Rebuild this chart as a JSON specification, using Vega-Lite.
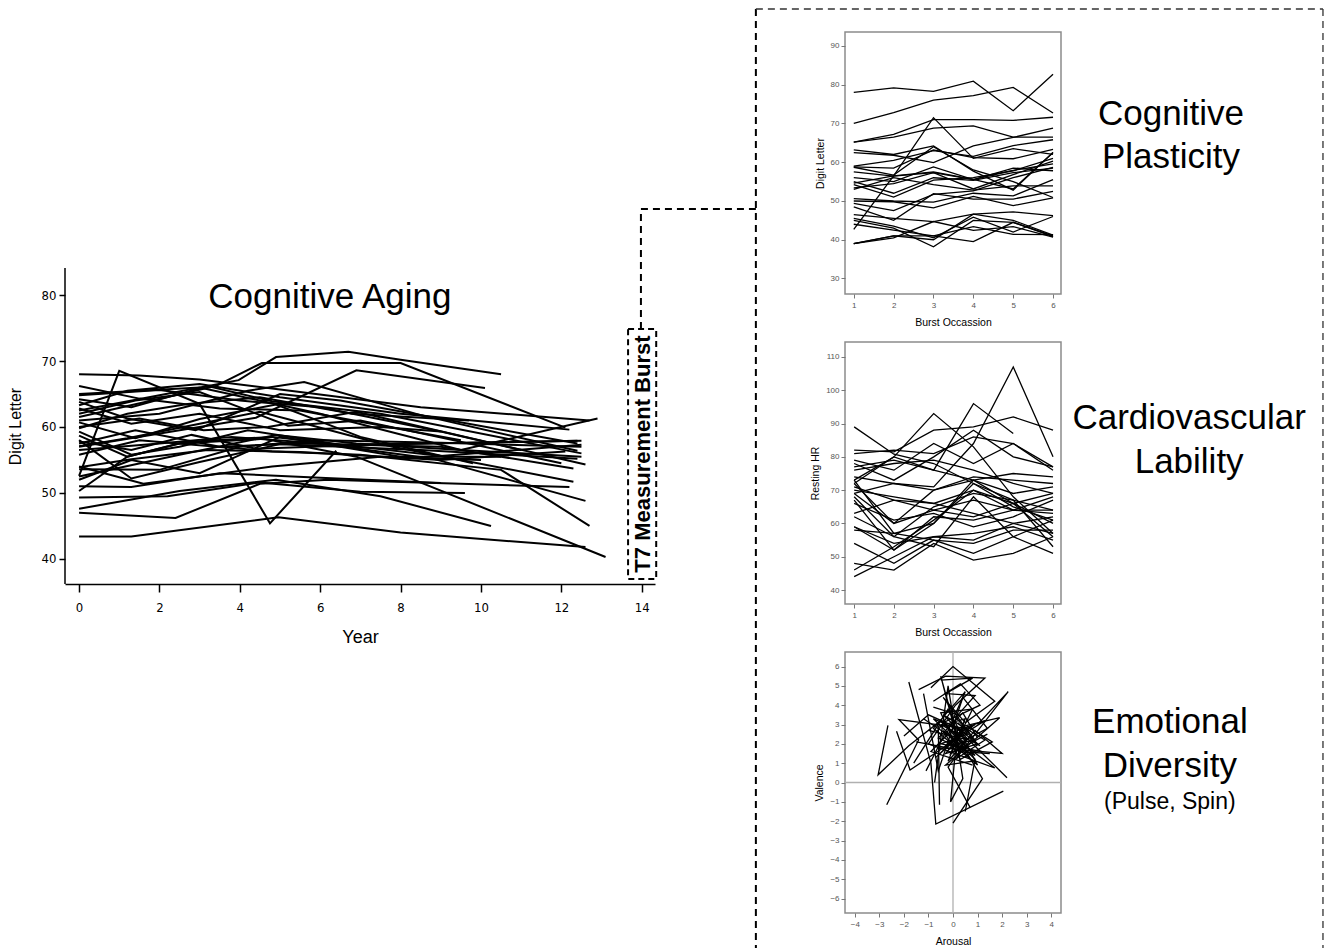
{
"$schema": "https://vega.github.io/schema/vega-lite/v6.json",
"padding": {"left": 7, "top": 7, "right": 0, "bottom": 0},
"background": "white",
"config": {"font": "Liberation Sans", "view": {"stroke": null}, "axis": {"grid": false}},
"datasets": {
"aging": [
{"id":"A1","t":0,"v":62.5},{"id":"A1","t":2,"v":64.8},{"id":"A1","t":3.97,"v":67.1},{"id":"A1","t":4.9,"v":70.6},{"id":"A1","t":6.7,"v":71.4},{"id":"A1","t":8,"v":70.2},{"id":"A1","t":10.5,"v":68},
{"id":"A2","t":0,"v":61.5},{"id":"A2","t":3.4,"v":66.2},{"id":"A2","t":4.55,"v":69.7},{"id":"A2","t":8,"v":69.7},{"id":"A2","t":12.1,"v":59.9},
{"id":"A3","t":0,"v":57},{"id":"A3","t":4.4,"v":61.4},{"id":"A3","t":6.9,"v":68.6},{"id":"A3","t":10.1,"v":65.9},
{"id":"A4","t":0,"v":52.6},{"id":"A4","t":1,"v":68.5},{"id":"A4","t":3,"v":63.5},{"id":"A4","t":4.75,"v":45.4},{"id":"A4","t":6.4,"v":56.4},
{"id":"A5","t":0,"v":43.4},{"id":"A5","t":1.3,"v":43.4},{"id":"A5","t":4.96,"v":46.3},{"id":"A5","t":8,"v":44},{"id":"A5","t":12.6,"v":41.8},
{"id":"A6","t":0,"v":47},{"id":"A6","t":2.4,"v":46.2},{"id":"A6","t":4.5,"v":51.4},{"id":"A6","t":6.2,"v":52},{"id":"A6","t":12.2,"v":50.9},
{"id":"A7","t":0,"v":47.6},{"id":"A7","t":2.5,"v":50.3},{"id":"A7","t":4.9,"v":52},{"id":"A7","t":7.5,"v":49.5},{"id":"A7","t":10.25,"v":45},
{"id":"A8","t":0,"v":49.3},{"id":"A8","t":2.2,"v":49.5},{"id":"A8","t":4.5,"v":51.6},{"id":"A8","t":7,"v":50.2},{"id":"A8","t":9.6,"v":50},
{"id":"A9","t":0,"v":51},{"id":"A9","t":1.3,"v":50.9},{"id":"A9","t":3.5,"v":53},{"id":"A9","t":6,"v":52.3},{"id":"A9","t":9,"v":51.5},
{"id":"A10","t":0,"v":68},{"id":"A10","t":1.5,"v":67.8},{"id":"A10","t":3,"v":67.2},{"id":"A10","t":5.5,"v":65.3},{"id":"A10","t":8.5,"v":63},{"id":"A10","t":12.7,"v":61},
{"id":"A11","t":0,"v":65},{"id":"A11","t":3,"v":66},{"id":"A11","t":6,"v":62},{"id":"A11","t":9.5,"v":56.5},{"id":"A11","t":12.9,"v":61.3},
{"id":"A12","t":0,"v":64.2},{"id":"A12","t":1.3,"v":63},{"id":"A12","t":3.2,"v":66.2},{"id":"A12","t":4.8,"v":63.9},{"id":"A12","t":7.5,"v":62},{"id":"A12","t":12.5,"v":56},
{"id":"A13","t":0,"v":63.8},{"id":"A13","t":1.2,"v":61.3},{"id":"A13","t":2.9,"v":59.5},{"id":"A13","t":5,"v":65},{"id":"A13","t":6.5,"v":64},{"id":"A13","t":12.4,"v":57.5},
{"id":"A14","t":0,"v":62},{"id":"A14","t":1.4,"v":64},{"id":"A14","t":3,"v":65.3},{"id":"A14","t":5.2,"v":60.2},{"id":"A14","t":7,"v":61},{"id":"A14","t":12,"v":54.5},
{"id":"A15","t":0,"v":61},{"id":"A15","t":2,"v":62},{"id":"A15","t":4.2,"v":65.5},{"id":"A15","t":5.6,"v":66.8},{"id":"A15","t":8.5,"v":61.8},{"id":"A15","t":12.4,"v":56.4},
{"id":"A16","t":0,"v":60},{"id":"A16","t":1.5,"v":61.3},{"id":"A16","t":3.1,"v":59.5},{"id":"A16","t":4.7,"v":60},{"id":"A16","t":6.9,"v":62.3},{"id":"A16","t":12.6,"v":54.3},
{"id":"A17","t":0,"v":59.3},{"id":"A17","t":1.3,"v":55.8},{"id":"A17","t":2.5,"v":57},{"id":"A17","t":4.2,"v":59.5},{"id":"A17","t":6.5,"v":57.3},{"id":"A17","t":12.5,"v":57.9},
{"id":"A18","t":0,"v":58.7},{"id":"A18","t":1.2,"v":55.5},{"id":"A18","t":2.6,"v":57.7},{"id":"A18","t":4.8,"v":58.5},{"id":"A18","t":9,"v":55.6},{"id":"A18","t":12.5,"v":57.3},
{"id":"A19","t":0,"v":58},{"id":"A19","t":1.3,"v":52.2},{"id":"A19","t":3,"v":54.7},{"id":"A19","t":5,"v":57.4},{"id":"A19","t":8.5,"v":56.5},{"id":"A19","t":12.4,"v":55.2},
{"id":"A20","t":0,"v":57.5},{"id":"A20","t":1.4,"v":59.5},{"id":"A20","t":3.5,"v":57},{"id":"A20","t":5.5,"v":57.5},{"id":"A20","t":9,"v":57},{"id":"A20","t":12.3,"v":53.7},
{"id":"A21","t":0,"v":57.1},{"id":"A21","t":1.2,"v":58.3},{"id":"A21","t":3,"v":60.5},{"id":"A21","t":4.5,"v":62.3},{"id":"A21","t":7.8,"v":57},{"id":"A21","t":12.3,"v":51.7},
{"id":"A22","t":0,"v":56.5},{"id":"A22","t":2,"v":57.5},{"id":"A22","t":3.8,"v":58.5},{"id":"A22","t":6,"v":57.5},{"id":"A22","t":8.8,"v":55.2},{"id":"A22","t":12.6,"v":48.8},
{"id":"A23","t":0,"v":55.8},{"id":"A23","t":1.5,"v":58},{"id":"A23","t":4.8,"v":56.3},{"id":"A23","t":7,"v":55.8},{"id":"A23","t":10.5,"v":53.5},{"id":"A23","t":12.7,"v":45},
{"id":"A24","t":0,"v":53.9},{"id":"A24","t":1.3,"v":55.1},{"id":"A24","t":3.2,"v":56.5},{"id":"A24","t":5.5,"v":56.2},{"id":"A24","t":9,"v":55},{"id":"A24","t":12.1,"v":56.3},
{"id":"A25","t":0,"v":53.6},{"id":"A25","t":2,"v":53.5},{"id":"A25","t":4,"v":57},{"id":"A25","t":6,"v":58},{"id":"A25","t":9,"v":57.6},{"id":"A25","t":12.5,"v":57},
{"id":"A26","t":0,"v":52},{"id":"A26","t":1.3,"v":55},{"id":"A26","t":3,"v":53},{"id":"A26","t":5,"v":58.5},{"id":"A26","t":8,"v":55.5},{"id":"A26","t":10.5,"v":55.5},
{"id":"A27","t":0,"v":50.3},{"id":"A27","t":1.2,"v":55.5},{"id":"A27","t":2.5,"v":57.5},{"id":"A27","t":4.6,"v":58.2},{"id":"A27","t":6.9,"v":55.5},{"id":"A27","t":13.1,"v":40.3},
{"id":"A28","t":0,"v":59.8},{"id":"A28","t":1.2,"v":62},{"id":"A28","t":2.7,"v":63.5},{"id":"A28","t":4.5,"v":64.5},{"id":"A28","t":6.8,"v":62},{"id":"A28","t":9.7,"v":61},
{"id":"A29","t":0,"v":62.8},{"id":"A29","t":1.3,"v":60.5},{"id":"A29","t":3,"v":62},{"id":"A29","t":5,"v":59.5},{"id":"A29","t":7.5,"v":60},{"id":"A29","t":9,"v":59.3},
{"id":"A30","t":0,"v":64.8},{"id":"A30","t":2,"v":65.6},{"id":"A30","t":4,"v":64},{"id":"A30","t":6,"v":63},{"id":"A30","t":9,"v":59.3},{"id":"A30","t":11,"v":56.5},
{"id":"A31","t":0,"v":66.2},{"id":"A31","t":1.5,"v":64.3},{"id":"A31","t":3.5,"v":62.8},{"id":"A31","t":5.5,"v":62.5},{"id":"A31","t":7,"v":60.8},{"id":"A31","t":9.5,"v":58},
{"id":"A32","t":0,"v":54},{"id":"A32","t":1.6,"v":51.4},{"id":"A32","t":3.2,"v":52.7},{"id":"A32","t":4.8,"v":54},{"id":"A32","t":7.5,"v":55.5},{"id":"A32","t":10,"v":55},
{"id":"A33","t":0,"v":60.7},{"id":"A33","t":1.4,"v":58.3},{"id":"A33","t":3,"v":61.2},{"id":"A33","t":4.9,"v":63.4},{"id":"A33","t":7,"v":58.5},{"id":"A33","t":9.8,"v":54.5},
{"id":"A34","t":0,"v":57.8},{"id":"A34","t":1.3,"v":56.5},{"id":"A34","t":2.8,"v":58.8},{"id":"A34","t":4.4,"v":56.7},{"id":"A34","t":7.2,"v":57.3},{"id":"A34","t":12.4,"v":57.9},
{"id":"A35","t":0,"v":63.3},{"id":"A35","t":1.2,"v":65.5},{"id":"A35","t":3,"v":66.5},{"id":"A35","t":5,"v":64.5},{"id":"A35","t":8,"v":62},{"id":"A35","t":12.2,"v":59.6},
{"id":"A36","t":0,"v":52.5},{"id":"A36","t":2.5,"v":55.8},{"id":"A36","t":4.9,"v":58.8},{"id":"A36","t":6.9,"v":57.5},{"id":"A36","t":9.3,"v":56.6},{"id":"A36","t":12.5,"v":55.5}
],
"plasticity": [
{"id":"P1","t":1,"v":78},{"id":"P1","t":2,"v":79.2},{"id":"P1","t":3,"v":78.3},{"id":"P1","t":4,"v":80.9},{"id":"P1","t":5,"v":73.3},{"id":"P1","t":6,"v":82.7},
{"id":"P2","t":1,"v":70},{"id":"P2","t":2,"v":72.8},{"id":"P2","t":3,"v":76},{"id":"P2","t":4,"v":77.2},{"id":"P2","t":5,"v":79.3},{"id":"P2","t":6,"v":72.7},
{"id":"P3","t":1,"v":65.2},{"id":"P3","t":2,"v":67.2},{"id":"P3","t":3,"v":71},{"id":"P3","t":4,"v":71},{"id":"P3","t":5,"v":70.8},{"id":"P3","t":6,"v":71.6},
{"id":"P4","t":1,"v":65.2},{"id":"P4","t":2,"v":66.5},{"id":"P4","t":3,"v":68.8},{"id":"P4","t":4,"v":69.4},{"id":"P4","t":5,"v":66.5},{"id":"P4","t":6,"v":66.5},
{"id":"P5","t":1,"v":42.7},{"id":"P5","t":2,"v":56.5},{"id":"P5","t":3,"v":71.5},{"id":"P5","t":4,"v":61},{"id":"P5","t":5,"v":63.5},{"id":"P5","t":6,"v":62},
{"id":"P6","t":1,"v":63.2},{"id":"P6","t":2,"v":62},{"id":"P6","t":3,"v":64.2},{"id":"P6","t":4,"v":57.7},{"id":"P6","t":5,"v":52.8},{"id":"P6","t":6,"v":62.5},
{"id":"P7","t":1,"v":62.5},{"id":"P7","t":2,"v":61.8},{"id":"P7","t":3,"v":59.9},{"id":"P7","t":4,"v":64.2},{"id":"P7","t":5,"v":66.4},{"id":"P7","t":6,"v":68.8},
{"id":"P8","t":1,"v":59},{"id":"P8","t":2,"v":60.5},{"id":"P8","t":3,"v":63},{"id":"P8","t":4,"v":61.5},{"id":"P8","t":5,"v":64.3},{"id":"P8","t":6,"v":65.8},
{"id":"P9","t":1,"v":58.8},{"id":"P9","t":2,"v":58.5},{"id":"P9","t":3,"v":63.2},{"id":"P9","t":4,"v":61.2},{"id":"P9","t":5,"v":60.9},{"id":"P9","t":6,"v":63.3},
{"id":"P10","t":1,"v":58.7},{"id":"P10","t":2,"v":56.7},{"id":"P10","t":3,"v":64},{"id":"P10","t":4,"v":58},{"id":"P10","t":5,"v":55},{"id":"P10","t":6,"v":50.9},
{"id":"P11","t":1,"v":57.5},{"id":"P11","t":2,"v":56.4},{"id":"P11","t":3,"v":57.3},{"id":"P11","t":4,"v":55.5},{"id":"P11","t":5,"v":57.9},{"id":"P11","t":6,"v":59.6},
{"id":"P12","t":1,"v":56},{"id":"P12","t":2,"v":55},{"id":"P12","t":3,"v":58.8},{"id":"P12","t":4,"v":55.5},{"id":"P12","t":5,"v":58.5},{"id":"P12","t":6,"v":57.8},
{"id":"P13","t":1,"v":55},{"id":"P13","t":2,"v":52},{"id":"P13","t":3,"v":56},{"id":"P13","t":4,"v":55.3},{"id":"P13","t":5,"v":57.3},{"id":"P13","t":6,"v":58.5},
{"id":"P14","t":1,"v":54.6},{"id":"P14","t":2,"v":56.5},{"id":"P14","t":3,"v":57.5},{"id":"P14","t":4,"v":55.6},{"id":"P14","t":5,"v":53.1},{"id":"P14","t":6,"v":62.5},
{"id":"P15","t":1,"v":54.2},{"id":"P15","t":2,"v":51},{"id":"P15","t":3,"v":55.4},{"id":"P15","t":4,"v":56},{"id":"P15","t":5,"v":57.8},{"id":"P15","t":6,"v":61},
{"id":"P16","t":1,"v":53.4},{"id":"P16","t":2,"v":54.5},{"id":"P16","t":3,"v":57.3},{"id":"P16","t":4,"v":53.1},{"id":"P16","t":5,"v":56.8},{"id":"P16","t":6,"v":60.3},
{"id":"P17","t":1,"v":53},{"id":"P17","t":2,"v":56},{"id":"P17","t":3,"v":54.2},{"id":"P17","t":4,"v":52.8},{"id":"P17","t":5,"v":53.9},{"id":"P17","t":6,"v":53.9},
{"id":"P18","t":1,"v":50.6},{"id":"P18","t":2,"v":50},{"id":"P18","t":3,"v":49.7},{"id":"P18","t":4,"v":52},{"id":"P18","t":5,"v":51.3},{"id":"P18","t":6,"v":55.5},
{"id":"P19","t":1,"v":50},{"id":"P19","t":2,"v":49.8},{"id":"P19","t":3,"v":48.2},{"id":"P19","t":4,"v":51.2},{"id":"P19","t":5,"v":48.8},{"id":"P19","t":6,"v":50.8},
{"id":"P20","t":1,"v":49.4},{"id":"P20","t":2,"v":47.5},{"id":"P20","t":3,"v":51.7},{"id":"P20","t":4,"v":52.6},{"id":"P20","t":5,"v":56},{"id":"P20","t":6,"v":58.7},
{"id":"P21","t":1,"v":48.5},{"id":"P21","t":2,"v":45},{"id":"P21","t":3,"v":51.9},{"id":"P21","t":4,"v":50.5},{"id":"P21","t":5,"v":50.5},{"id":"P21","t":6,"v":52.5},
{"id":"P22","t":1,"v":46.5},{"id":"P22","t":2,"v":45.5},{"id":"P22","t":3,"v":44.7},{"id":"P22","t":4,"v":46.6},{"id":"P22","t":5,"v":47.2},{"id":"P22","t":6,"v":46.2},
{"id":"P23","t":1,"v":45.5},{"id":"P23","t":2,"v":43.5},{"id":"P23","t":3,"v":40.5},{"id":"P23","t":4,"v":45.8},{"id":"P23","t":5,"v":42},{"id":"P23","t":6,"v":46},
{"id":"P24","t":1,"v":45},{"id":"P24","t":2,"v":43},{"id":"P24","t":3,"v":38.2},{"id":"P24","t":4,"v":45},{"id":"P24","t":5,"v":44.5},{"id":"P24","t":6,"v":41},
{"id":"P25","t":1,"v":44},{"id":"P25","t":2,"v":42.5},{"id":"P25","t":3,"v":41},{"id":"P25","t":4,"v":43.4},{"id":"P25","t":5,"v":41.4},{"id":"P25","t":6,"v":41.3},
{"id":"P26","t":1,"v":39},{"id":"P26","t":2,"v":41},{"id":"P26","t":3,"v":41},{"id":"P26","t":4,"v":39.5},{"id":"P26","t":5,"v":44.5},{"id":"P26","t":6,"v":40.8},
{"id":"P27","t":1,"v":39},{"id":"P27","t":2,"v":40.5},{"id":"P27","t":3,"v":44.7},{"id":"P27","t":4,"v":42.4},{"id":"P27","t":5,"v":43.4},{"id":"P27","t":6,"v":40.7},
{"id":"P28","t":1,"v":39},{"id":"P28","t":2,"v":41},{"id":"P28","t":3,"v":40},{"id":"P28","t":4,"v":46.6},{"id":"P28","t":5,"v":45},{"id":"P28","t":6,"v":41.2}
],
"hr": [
{"id":"H1","t":1,"v":89},{"id":"H1","t":2,"v":80.8},{"id":"H1","t":3,"v":78},{"id":"H1","t":4,"v":72},{"id":"H1","t":5,"v":67},{"id":"H1","t":6,"v":53},
{"id":"H2","t":1,"v":72},{"id":"H2","t":2,"v":80},{"id":"H2","t":3,"v":93},{"id":"H2","t":4,"v":83},{"id":"H2","t":5,"v":68},{"id":"H2","t":6,"v":57},
{"id":"H3","t":1,"v":73},{"id":"H3","t":2,"v":80},{"id":"H3","t":3,"v":76},{"id":"H3","t":4,"v":96},{"id":"H3","t":5,"v":87},
{"id":"H4","t":1,"v":69},{"id":"H4","t":2,"v":72},{"id":"H4","t":3,"v":71},{"id":"H4","t":4,"v":84},{"id":"H4","t":5,"v":107},{"id":"H4","t":6,"v":80},
{"id":"H5","t":1,"v":82},{"id":"H5","t":2,"v":81.5},{"id":"H5","t":3,"v":88},{"id":"H5","t":4,"v":89},{"id":"H5","t":5,"v":92},{"id":"H5","t":6,"v":88},
{"id":"H6","t":1,"v":81},{"id":"H6","t":2,"v":82},{"id":"H6","t":3,"v":81},{"id":"H6","t":4,"v":86},{"id":"H6","t":5,"v":84},{"id":"H6","t":6,"v":77},
{"id":"H7","t":1,"v":79},{"id":"H7","t":2,"v":76},{"id":"H7","t":3,"v":84},{"id":"H7","t":4,"v":78},{"id":"H7","t":5,"v":84},{"id":"H7","t":6,"v":76},
{"id":"H8","t":1,"v":78},{"id":"H8","t":2,"v":73},{"id":"H8","t":3,"v":80},{"id":"H8","t":4,"v":88},{"id":"H8","t":5,"v":80},{"id":"H8","t":6,"v":77},
{"id":"H9","t":1,"v":77},{"id":"H9","t":2,"v":79},{"id":"H9","t":3,"v":76},{"id":"H9","t":4,"v":73},{"id":"H9","t":5,"v":75},{"id":"H9","t":6,"v":74},
{"id":"H10","t":1,"v":76},{"id":"H10","t":2,"v":78},{"id":"H10","t":3,"v":79},{"id":"H10","t":4,"v":76},{"id":"H10","t":5,"v":72},{"id":"H10","t":6,"v":69},
{"id":"H11","t":1,"v":74},{"id":"H11","t":2,"v":72},{"id":"H11","t":3,"v":70},{"id":"H11","t":4,"v":74},{"id":"H11","t":5,"v":73},{"id":"H11","t":6,"v":72},
{"id":"H12","t":1,"v":73},{"id":"H12","t":2,"v":57},{"id":"H12","t":3,"v":60},{"id":"H12","t":4,"v":72},{"id":"H12","t":5,"v":65},{"id":"H12","t":6,"v":61},
{"id":"H13","t":1,"v":72},{"id":"H13","t":2,"v":60},{"id":"H13","t":3,"v":70},{"id":"H13","t":4,"v":73},{"id":"H13","t":5,"v":69},{"id":"H13","t":6,"v":71},
{"id":"H14","t":1,"v":70},{"id":"H14","t":2,"v":68},{"id":"H14","t":3,"v":66},{"id":"H14","t":4,"v":70},{"id":"H14","t":5,"v":66},{"id":"H14","t":6,"v":69},
{"id":"H15","t":1,"v":69},{"id":"H15","t":2,"v":60},{"id":"H15","t":3,"v":64},{"id":"H15","t":4,"v":62},{"id":"H15","t":5,"v":66},{"id":"H15","t":6,"v":60},
{"id":"H16","t":1,"v":68},{"id":"H16","t":2,"v":56},{"id":"H16","t":3,"v":65},{"id":"H16","t":4,"v":69},{"id":"H16","t":5,"v":67},{"id":"H16","t":6,"v":64},
{"id":"H17","t":1,"v":67},{"id":"H17","t":2,"v":52},{"id":"H17","t":3,"v":62},{"id":"H17","t":4,"v":61},{"id":"H17","t":5,"v":64},{"id":"H17","t":6,"v":63},
{"id":"H18","t":1,"v":66},{"id":"H18","t":2,"v":61},{"id":"H18","t":3,"v":63},{"id":"H18","t":4,"v":59},{"id":"H18","t":5,"v":62},{"id":"H18","t":6,"v":67},
{"id":"H19","t":1,"v":62},{"id":"H19","t":2,"v":56},{"id":"H19","t":3,"v":53},{"id":"H19","t":4,"v":68},{"id":"H19","t":5,"v":56},{"id":"H19","t":6,"v":61},
{"id":"H20","t":1,"v":59},{"id":"H20","t":2,"v":52},{"id":"H20","t":3,"v":60},{"id":"H20","t":4,"v":73},{"id":"H20","t":5,"v":66},{"id":"H20","t":6,"v":56},
{"id":"H21","t":1,"v":59},{"id":"H21","t":2,"v":54},{"id":"H21","t":3,"v":56},{"id":"H21","t":4,"v":55},{"id":"H21","t":5,"v":60},{"id":"H21","t":6,"v":57},
{"id":"H22","t":1,"v":58},{"id":"H22","t":2,"v":57},{"id":"H22","t":3,"v":55},{"id":"H22","t":4,"v":54},{"id":"H22","t":5,"v":58},{"id":"H22","t":6,"v":58},
{"id":"H23","t":1,"v":54},{"id":"H23","t":2,"v":48},{"id":"H23","t":3,"v":55},{"id":"H23","t":4,"v":51},{"id":"H23","t":5,"v":56},{"id":"H23","t":6,"v":51},
{"id":"H24","t":1,"v":48},{"id":"H24","t":2,"v":46},{"id":"H24","t":3,"v":54},{"id":"H24","t":4,"v":49},{"id":"H24","t":5,"v":51},{"id":"H24","t":6,"v":56},
{"id":"H25","t":1,"v":46},{"id":"H25","t":2,"v":53},{"id":"H25","t":3,"v":61},{"id":"H25","t":4,"v":70},{"id":"H25","t":5,"v":64},{"id":"H25","t":6,"v":64},
{"id":"H26","t":1,"v":44},{"id":"H26","t":2,"v":50},{"id":"H26","t":3,"v":56},{"id":"H26","t":4,"v":57},{"id":"H26","t":5,"v":59},{"id":"H26","t":6,"v":55},
{"id":"H27","t":1,"v":63},{"id":"H27","t":2,"v":67},{"id":"H27","t":3,"v":64},{"id":"H27","t":4,"v":67},{"id":"H27","t":5,"v":64},{"id":"H27","t":6,"v":68},
{"id":"H28","t":1,"v":71},{"id":"H28","t":2,"v":67},{"id":"H28","t":3,"v":66},{"id":"H28","t":4,"v":63},{"id":"H28","t":5,"v":60},{"id":"H28","t":6,"v":62}
],
"emotion": [
{"id":"E1","s":1,"a":-2.65,"val":2.95},{"id":"E1","s":2,"a":-3.05,"val":0.4},{"id":"E1","s":3,"a":-1.8,"val":1.9},{"id":"E1","s":4,"a":-0.5,"val":3.2},{"id":"E1","s":5,"a":0.3,"val":2.1},
{"id":"E2","s":1,"a":-2.7,"val":-1.15},{"id":"E2","s":2,"a":-1.4,"val":2.2},{"id":"E2","s":3,"a":-2.2,"val":3.25},{"id":"E2","s":4,"a":0.5,"val":2.8},{"id":"E2","s":5,"a":-0.3,"val":1.5},{"id":"E2","s":6,"a":1.0,"val":2.0},{"id":"E2","s":7,"a":0.2,"val":3.1},
{"id":"E3","s":1,"a":-1.8,"val":5.2},{"id":"E3","s":2,"a":-0.9,"val":1.0},{"id":"E3","s":3,"a":-0.7,"val":-2.15},{"id":"E3","s":4,"a":2.05,"val":-0.45},
{"id":"E4","s":1,"a":0,"val":-2.1},{"id":"E4","s":2,"a":1.2,"val":0.2},{"id":"E4","s":3,"a":0.1,"val":2.5},{"id":"E4","s":4,"a":0.9,"val":3.0},{"id":"E4","s":5,"a":-0.2,"val":2.0},{"id":"E4","s":6,"a":0.6,"val":1.8},
{"id":"E5","s":1,"a":-0.9,"val":4.9},{"id":"E5","s":2,"a":0,"val":6.0},{"id":"E5","s":3,"a":1.7,"val":4.2},{"id":"E5","s":4,"a":0.5,"val":3.1},{"id":"E5","s":5,"a":-0.4,"val":4.4},{"id":"E5","s":6,"a":0.7,"val":2.5},
{"id":"E6","s":1,"a":2.2,"val":0.25},{"id":"E6","s":2,"a":-0.4,"val":3.5},{"id":"E6","s":3,"a":1.3,"val":2.2},{"id":"E6","s":4,"a":0.1,"val":1.2},{"id":"E6","s":5,"a":2.25,"val":4.7},{"id":"E6","s":6,"a":1.0,"val":3.0},
{"id":"E7","s":1,"a":-2.3,"val":2.65},{"id":"E7","s":2,"a":-1.75,"val":0.65},{"id":"E7","s":3,"a":0.2,"val":2.3},{"id":"E7","s":4,"a":-0.5,"val":5.5},{"id":"E7","s":5,"a":0.3,"val":1.6},{"id":"E7","s":6,"a":1.5,"val":1.5},
{"id":"E8","s":1,"a":-0.55,"val":-1.15},{"id":"E8","s":2,"a":-0.6,"val":2.9},{"id":"E8","s":3,"a":0.5,"val":3.3},{"id":"E8","s":4,"a":-0.2,"val":1.1},{"id":"E8","s":5,"a":0.9,"val":2.7},{"id":"E8","s":6,"a":2.0,"val":1.5},{"id":"E8","s":7,"a":-0.6,"val":1.8},
{"id":"E9","s":1,"a":-1.4,"val":4.8},{"id":"E9","s":2,"a":-0.3,"val":5.5},{"id":"E9","s":3,"a":1.3,"val":5.4},{"id":"E9","s":4,"a":0.1,"val":4.0},{"id":"E9","s":5,"a":-1.0,"val":2.0},{"id":"E9","s":6,"a":1.7,"val":0.75},{"id":"E9","s":7,"a":0.2,"val":2.2},
{"id":"E10","s":1,"a":-1.1,"val":0.6},{"id":"E10","s":2,"a":-0.3,"val":2.6},{"id":"E10","s":3,"a":0.8,"val":1.1},{"id":"E10","s":4,"a":-0.3,"val":0.9},{"id":"E10","s":5,"a":1.9,"val":3.35},{"id":"E10","s":6,"a":0.4,"val":2.9},
{"id":"E11","s":1,"a":0.5,"val":-1.5},{"id":"E11","s":2,"a":0.9,"val":1.2},{"id":"E11","s":3,"a":-0.8,"val":3.3},{"id":"E11","s":4,"a":0.6,"val":2.5},{"id":"E11","s":5,"a":-0.5,"val":2.0},{"id":"E11","s":6,"a":1.2,"val":1.6},
{"id":"E12","s":1,"a":-1.6,"val":1.0},{"id":"E12","s":2,"a":-0.2,"val":3.8},{"id":"E12","s":3,"a":1.0,"val":0.9},{"id":"E12","s":4,"a":-0.8,"val":2.8},{"id":"E12","s":5,"a":0.5,"val":4.7},{"id":"E12","s":6,"a":-0.3,"val":2.4},
{"id":"E13","s":1,"a":-1.0,"val":2.7},{"id":"E13","s":2,"a":0.6,"val":2.2},{"id":"E13","s":3,"a":-0.5,"val":3.0},{"id":"E13","s":4,"a":1.1,"val":1.9},{"id":"E13","s":5,"a":0.1,"val":2.9},{"id":"E13","s":6,"a":-0.9,"val":1.6},{"id":"E13","s":7,"a":0.8,"val":0.9},
{"id":"E14","s":1,"a":-0.75,"val":0.0},{"id":"E14","s":2,"a":-0.2,"val":5.0},{"id":"E14","s":3,"a":0.4,"val":0.2},{"id":"E14","s":4,"a":-0.1,"val":-1.0},{"id":"E14","s":5,"a":0.2,"val":2.9},
{"id":"E15","s":1,"a":-1.2,"val":4.6},{"id":"E15","s":2,"a":-0.6,"val":0.6},{"id":"E15","s":3,"a":0.4,"val":4.4},{"id":"E15","s":4,"a":1.4,"val":2.8},{"id":"E15","s":5,"a":-0.2,"val":1.7},
{"id":"E16","s":1,"a":-0.5,"val":5.3},{"id":"E16","s":2,"a":0.8,"val":5.4},{"id":"E16","s":3,"a":-0.3,"val":4.6},{"id":"E16","s":4,"a":0.9,"val":4.5},{"id":"E16","s":5,"a":0.2,"val":3.5},{"id":"E16","s":6,"a":-0.8,"val":3.9},
{"id":"E17","s":1,"a":-1.2,"val":3.3},{"id":"E17","s":2,"a":0.1,"val":2.2},{"id":"E17","s":3,"a":-0.7,"val":1.3},{"id":"E17","s":4,"a":0.6,"val":2.9},{"id":"E17","s":5,"a":1.6,"val":2.1},{"id":"E17","s":6,"a":0.3,"val":1.2},{"id":"E17","s":7,"a":-0.4,"val":2.7},
{"id":"E18","s":1,"a":-0.3,"val":1.9},{"id":"E18","s":2,"a":1.3,"val":3.2},{"id":"E18","s":3,"a":0.0,"val":2.6},{"id":"E18","s":4,"a":0.9,"val":1.4},{"id":"E18","s":5,"a":-0.6,"val":2.3},{"id":"E18","s":6,"a":0.4,"val":3.6},{"id":"E18","s":7,"a":1.0,"val":2.3},
{"id":"E19","s":1,"a":-1.5,"val":2.1},{"id":"E19","s":2,"a":0.2,"val":1.7},{"id":"E19","s":3,"a":-0.5,"val":3.6},{"id":"E19","s":4,"a":0.8,"val":3.8},{"id":"E19","s":5,"a":-0.1,"val":1.5},{"id":"E19","s":6,"a":1.4,"val":2.5},
{"id":"E20","s":1,"a":-0.8,"val":4.2},{"id":"E20","s":2,"a":0.3,"val":5.1},{"id":"E20","s":3,"a":1.1,"val":4.0},{"id":"E20","s":4,"a":-0.4,"val":3.1},{"id":"E20","s":5,"a":0.5,"val":2.0},{"id":"E20","s":6,"a":-0.2,"val":0.8},{"id":"E20","s":7,"a":0.7,"val":-1.3},
{"id":"E21","s":1,"a":-2.0,"val":2.4},{"id":"E21","s":2,"a":-1.0,"val":3.5},{"id":"E21","s":3,"a":0.4,"val":2.7},{"id":"E21","s":4,"a":-0.3,"val":1.9},{"id":"E21","s":5,"a":0.9,"val":2.2},{"id":"E21","s":6,"a":0.1,"val":3.4}
]
},
"hconcat": [
{
"width": 590, "height": 552,
"view": {"stroke": null},
"layer": [
{
"data": {"name": "aging"},
"mark": {"type": "line", "color": "black", "strokeWidth": 2},
"encoding": {
"x": {"field": "t", "type": "quantitative", "scale": {"domain": [-0.35, 14.33], "nice": false, "zero": false},
"axis": {"values": [0,2,4,6,8,10,12,14], "labelOverlap": false, "title": "Year", "titleFontSize": 18, "titleFontWeight": "normal", "titlePadding": 14, "titleColor": "black",
"labelFont": "Liberation Sans Narrow, DejaVu Sans Condensed, Liberation Sans", "labelFontSize": 13, "labelColor": "black", "labelPadding": 9,
"tickSize": 8, "tickColor": "black", "tickWidth": 1.5, "domainColor": "black", "domainWidth": 1.5}},
"y": {"field": "v", "type": "quantitative", "scale": {"domain": [36.2, 119.87], "nice": false, "zero": false},
"axis": {"values": [40,50,60,70,80], "labelOverlap": false, "title": "Digit Letter", "titleY": 394, "titleFontSize": 16, "titleFontWeight": "normal", "titlePadding": 18, "titleColor": "black",
"labelFont": "Liberation Sans Narrow, DejaVu Sans Condensed, Liberation Sans", "labelFontSize": 13, "labelColor": "black", "labelPadding": 3,
"tickSize": 6, "tickColor": "black", "tickWidth": 1.5, "domain": false}},
"detail": {"field": "id"}
}
},
{
"data": {"values": [{}]},
"mark": {"type": "rule", "color": "black", "strokeWidth": 1.5},
"encoding": {
"x": {"datum": -0.35, "type": "quantitative", "scale": {"domain": [-0.35, 14.33], "nice": false, "zero": false}},
"y": {"datum": 36.2, "type": "quantitative", "scale": {"domain": [36.2, 119.87], "nice": false, "zero": false}},
"y2": {"datum": 84.1}
}
},
{
"data": {"values": [{}]},
"mark": {"type": "text", "text": "Cognitive Aging", "fontSize": 35, "align": "center", "baseline": "alphabetic", "color": "black"},
"encoding": {
"x": {"datum": 6.24, "type": "quantitative", "scale": {"domain": [-0.35, 14.33], "nice": false, "zero": false}},
"y": {"datum": 78.0, "type": "quantitative", "scale": {"domain": [36.2, 119.87], "nice": false, "zero": false}}
}
},
{
"data": {"values": [{}]},
"mark": {"type": "text", "text": "Cognitive\nPlasticity", "lineBreak": "\n", "lineHeight": 43, "fontSize": 35, "align": "center", "baseline": "alphabetic", "color": "black"},
"encoding": {
"x": {"datum": 27.17, "type": "quantitative", "scale": {"domain": [-0.35, 14.33], "nice": false, "zero": false}},
"y": {"datum": 105.78, "type": "quantitative", "scale": {"domain": [36.2, 119.87], "nice": false, "zero": false}}
}
},
{
"data": {"values": [{}]},
"mark": {"type": "text", "text": "Cardiovascular\nLability", "lineBreak": "\n", "lineHeight": 44, "fontSize": 35, "align": "center", "baseline": "alphabetic", "color": "black"},
"encoding": {
"x": {"datum": 27.62, "type": "quantitative", "scale": {"domain": [-0.35, 14.33], "nice": false, "zero": false}},
"y": {"datum": 59.69, "type": "quantitative", "scale": {"domain": [36.2, 119.87], "nice": false, "zero": false}}
}
},
{
"data": {"values": [{}]},
"mark": {"type": "text", "text": "Emotional\nDiversity", "lineBreak": "\n", "lineHeight": 44, "fontSize": 35, "align": "center", "baseline": "alphabetic", "color": "black"},
"encoding": {
"x": {"datum": 27.14, "type": "quantitative", "scale": {"domain": [-0.35, 14.33], "nice": false, "zero": false}},
"y": {"datum": 13.61, "type": "quantitative", "scale": {"domain": [36.2, 119.87], "nice": false, "zero": false}}
}
},
{
"data": {"values": [{}]},
"mark": {"type": "text", "text": "(Pulse, Spin)", "fontSize": 23, "align": "center", "baseline": "alphabetic", "color": "black"},
"encoding": {
"x": {"datum": 27.14, "type": "quantitative", "scale": {"domain": [-0.35, 14.33], "nice": false, "zero": false}},
"y": {"datum": 2.09, "type": "quantitative", "scale": {"domain": [36.2, 119.87], "nice": false, "zero": false}}
}
},
{
"data": {"values": [{}]},
"mark": {"type": "rect", "filled": false, "stroke": "black", "strokeWidth": 2, "strokeDash": [6, 4]},
"encoding": {
"x": {"datum": 13.66, "type": "quantitative", "scale": {"domain": [-0.35, 14.33], "nice": false, "zero": false}},
"x2": {"datum": 14.36},
"y": {"datum": 74.85, "type": "quantitative", "scale": {"domain": [36.2, 119.87], "nice": false, "zero": false}},
"y2": {"datum": 36.96}
}
},
{
"data": {"values": [{}]},
"mark": {"type": "text", "text": "T7 Measurement Burst", "fontSize": 22, "fontWeight": "bold", "angle": 270, "align": "center", "baseline": "middle", "color": "black"},
"encoding": {
"x": {"datum": 14.02, "type": "quantitative", "scale": {"domain": [-0.35, 14.33], "nice": false, "zero": false}},
"y": {"datum": 55.9, "type": "quantitative", "scale": {"domain": [36.2, 119.87], "nice": false, "zero": false}}
}
},
{
"data": {"values": [{}]},
"mark": {"type": "rule", "color": "black", "strokeWidth": 2, "strokeDash": [7, 5]},
"encoding": {
"x": {"datum": 13.98, "type": "quantitative", "scale": {"domain": [-0.35, 14.33], "nice": false, "zero": false}},
"y": {"datum": 74.85, "type": "quantitative", "scale": {"domain": [36.2, 119.87], "nice": false, "zero": false}},
"y2": {"datum": 93.04}
}
},
{
"data": {"values": [{}]},
"mark": {"type": "rule", "color": "black", "strokeWidth": 2, "strokeDash": [7, 5]},
"encoding": {
"x": {"datum": 13.98, "type": "quantitative", "scale": {"domain": [-0.35, 14.33], "nice": false, "zero": false}},
"x2": {"datum": 16.84},
"y": {"datum": 93.04, "type": "quantitative", "scale": {"domain": [36.2, 119.87], "nice": false, "zero": false}}
}
},
{
"data": {"values": [{}]},
"mark": {"type": "rule", "color": "black", "strokeWidth": 2, "strokeDash": [7, 5]},
"encoding": {
"x": {"datum": 16.84, "type": "quantitative", "scale": {"domain": [-0.35, 14.33], "nice": false, "zero": false}},
"y": {"datum": 123.36, "type": "quantitative", "scale": {"domain": [36.2, 119.87], "nice": false, "zero": false}},
"y2": {"datum": -18.98}
}
},
{
"data": {"values": [{}]},
"mark": {"type": "rule", "color": "#333", "strokeWidth": 1.3, "strokeDash": [7, 5]},
"encoding": {
"x": {"datum": 16.84, "type": "quantitative", "scale": {"domain": [-0.35, 14.33], "nice": false, "zero": false}},
"x2": {"datum": 30.95},
"y": {"datum": 123.36, "type": "quantitative", "scale": {"domain": [36.2, 119.87], "nice": false, "zero": false}}
}
},
{
"data": {"values": [{}]},
"mark": {"type": "rule", "color": "#333", "strokeWidth": 1.3, "strokeDash": [7, 5]},
"encoding": {
"x": {"datum": 30.95, "type": "quantitative", "scale": {"domain": [-0.35, 14.33], "nice": false, "zero": false}},
"y": {"datum": 123.36, "type": "quantitative", "scale": {"domain": [36.2, 119.87], "nice": false, "zero": false}},
"y2": {"datum": -18.98}
}
}
]
},
{
"vconcat": [
{
"width": 216, "height": 262,
"view": {"stroke": "#8c8c8c", "strokeWidth": 1.5},
"data": {"name": "plasticity"},
"mark": {"type": "line", "color": "black", "strokeWidth": 1.3},
"encoding": {
"x": {"field": "t", "type": "quantitative", "scale": {"domain": [0.78, 6.2], "nice": false, "zero": false},
"axis": {"values": [1,2,3,4,5,6], "labelOverlap": false, "title": "Burst Occassion", "titleFontSize": 10.5, "titleFontWeight": "normal", "titlePadding": 8, "titleColor": "black", "labelFontSize": 8, "labelColor": "#555", "labelPadding": 3, "tickSize": 4, "tickColor": "#777", "domain": false}},
"y": {"field": "v", "type": "quantitative", "scale": {"domain": [26, 93.6], "nice": false, "zero": false},
"axis": {"values": [30,40,50,60,70,80,90], "labelOverlap": false, "title": "Digit Letter", "titleFontSize": 10.5, "titleFontWeight": "normal", "titlePadding": 5, "titleColor": "black", "labelFontSize": 8, "labelColor": "#555", "labelPadding": 2, "tickSize": 4, "tickColor": "#777", "domain": false}},
"detail": {"field": "id"}
}
},
{
"width": 216, "height": 262,
"view": {"stroke": "#8c8c8c", "strokeWidth": 1.5},
"data": {"name": "hr"},
"mark": {"type": "line", "color": "black", "strokeWidth": 1.3},
"encoding": {
"x": {"field": "t", "type": "quantitative", "scale": {"domain": [0.77, 6.2], "nice": false, "zero": false},
"axis": {"values": [1,2,3,4,5,6], "labelOverlap": false, "title": "Burst Occassion", "titleFontSize": 10.5, "titleFontWeight": "normal", "titlePadding": 8, "titleColor": "black", "labelFontSize": 8, "labelColor": "#555", "labelPadding": 3, "tickSize": 4, "tickColor": "#777", "domain": false}},
"y": {"field": "v", "type": "quantitative", "scale": {"domain": [35.8, 114.5], "nice": false, "zero": false},
"axis": {"values": [40,50,60,70,80,90,100,110], "labelOverlap": false, "title": "Resting HR", "titleFontSize": 10.5, "titleFontWeight": "normal", "titlePadding": 5, "titleColor": "black", "labelFontSize": 8, "labelColor": "#555", "labelPadding": 2, "tickSize": 4, "tickColor": "#777", "domain": false}},
"detail": {"field": "id"}
}
},
{
"width": 216, "height": 261,
"view": {"stroke": "#8c8c8c", "strokeWidth": 1.5},
"layer": [
{
"data": {"values": [{}]},
"mark": {"type": "rule", "color": "#b0b0b0", "strokeWidth": 1.3},
"encoding": {
"x": {"datum": 0, "type": "quantitative", "scale": {"domain": [-4.4, 4.4], "nice": false, "zero": false},
"axis": {"values": [-4,-3,-2,-1,0,1,2,3,4], "labelOverlap": false, "title": "Arousal", "titleFontSize": 10.5, "titleFontWeight": "normal", "titlePadding": 8, "titleColor": "black", "labelFontSize": 8, "labelColor": "#555", "labelPadding": 3, "tickSize": 4, "tickColor": "#777", "domain": false}}
}
},
{
"data": {"values": [{}]},
"mark": {"type": "rule", "color": "#b0b0b0", "strokeWidth": 1.3},
"encoding": {
"y": {"datum": 0, "type": "quantitative", "scale": {"domain": [-6.75, 6.75], "nice": false, "zero": false},
"axis": {"values": [-6,-5,-4,-3,-2,-1,0,1,2,3,4,5,6], "labelOverlap": false, "title": "Valence", "titleFontSize": 10.5, "titleFontWeight": "normal", "titlePadding": 5, "titleColor": "black", "labelFontSize": 8, "labelColor": "#555", "labelPadding": 2, "tickSize": 4, "tickColor": "#777", "domain": false}}
}
},
{
"data": {"name": "emotion"},
"mark": {"type": "line", "color": "black", "strokeWidth": 1.3},
"encoding": {
"x": {"field": "a", "type": "quantitative", "scale": {"domain": [-4.4, 4.4], "nice": false, "zero": false},
"axis": {"values": [-4,-3,-2,-1,0,1,2,3,4], "labelOverlap": false, "title": "Arousal", "titleFontSize": 10.5, "titleFontWeight": "normal", "titlePadding": 8, "titleColor": "black", "labelFontSize": 8, "labelColor": "#555", "labelPadding": 3, "tickSize": 4, "tickColor": "#777", "domain": false}},
"y": {"field": "val", "type": "quantitative", "scale": {"domain": [-6.75, 6.75], "nice": false, "zero": false},
"axis": {"values": [-6,-5,-4,-3,-2,-1,0,1,2,3,4,5,6], "labelOverlap": false, "title": "Valence", "titleFontSize": 10.5, "titleFontWeight": "normal", "titlePadding": 5, "titleColor": "black", "labelFontSize": 8, "labelColor": "#555", "labelPadding": 2, "tickSize": 4, "tickColor": "#777", "domain": false}},
"detail": {"field": "id"},
"order": {"field": "s", "type": "quantitative"}
}
}
]
}
],
"spacing": 48,
"bounds": "flush"
}
],
"spacing": 190,
"bounds": "flush"
}
